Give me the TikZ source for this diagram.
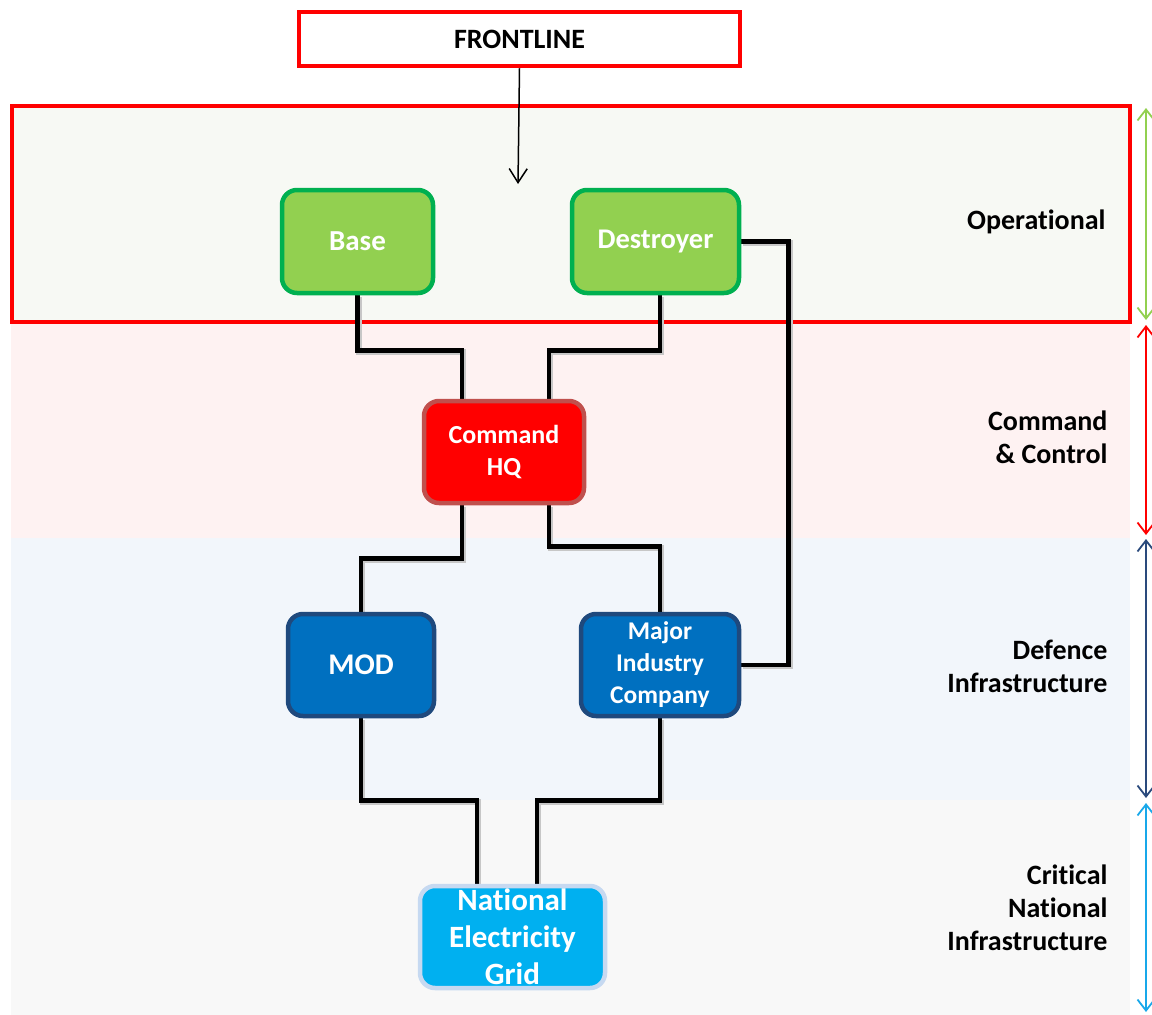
\documentclass[tikz,border=0pt]{standalone}
\usepackage{fontspec}
\setmainfont[Ligatures=NoCommon]{Carlito}
\usetikzlibrary{arrows.meta,calc}
\pgfdeclarelayer{bg}
\pgfdeclarelayer{lines}
\pgfsetlayers{bg,lines,main}
\definecolor{opfill}{HTML}{F7F9F4}
\definecolor{ccfill}{HTML}{FEF2F2}
\definecolor{dffill}{HTML}{F2F6FB}
\definecolor{cnfill}{HTML}{F8F8F8}
\definecolor{redline}{HTML}{FF0000}
\definecolor{gfill}{HTML}{92D050}
\definecolor{gline}{HTML}{00B050}
\definecolor{hqline}{HTML}{C0504D}
\definecolor{bfill}{HTML}{0070C0}
\definecolor{bline}{HTML}{1F497D}
\definecolor{cfill}{HTML}{00B0F0}
\definecolor{cline}{HTML}{C6D9F1}
\definecolor{dbarrow}{HTML}{2A4A7C}
\definecolor{lbarrow}{HTML}{18A8EA}
\tikzset{
  box/.style={rounded corners=15pt, line width=4.5pt, inner sep=0pt, align=center, text=white, font=\bfseries},
  conn/.style={line width=4.5pt, black},
  shadowconn/.style={line width=5.5pt, black!22, transform canvas={xshift=1.5pt,yshift=-1.5pt}},
  lbl/.style={anchor=east, align=right, font=\fontsize{28}{33}\selectfont\bfseries},
  dbl/.style={line width=1.8pt, {Straight Barb[length=11pt,width=17pt]}-{Straight Barb[length=11pt,width=17pt]}},
}
\begin{document}
\begin{tikzpicture}[x=1pt,y=-1pt]
\useasboundingbox (0,0) rectangle (1152,1015);
\begin{pgfonlayer}{bg}
  \fill[cnfill] (11,800) rectangle (1130,1015);
  \fill[dffill] (11,538) rectangle (1130,800);
  \fill[ccfill] (11,322) rectangle (1130,538);
  \fill[opfill] (11,105) rectangle (1130,322);
  \draw[redline, line width=4.5pt] (12,106) rectangle (1130,322);
\end{pgfonlayer}

% right-side range arrows
\draw[dbl, color=gfill] (1146,108) -- (1146,320);
\draw[dbl, color=redline] (1146,325) -- (1146,535);
\draw[dbl, color=dbarrow] (1146,539) -- (1146,798);
\draw[dbl, color=lbarrow] (1146,803) -- (1146,1012);

% band labels
\node[lbl] (lop) at (1109,222) {Operational};
\node[lbl] (lcc) at (1111,437) {Command\\\& Control};
\node[lbl] (ldf) at (1111,666) {Defence\\Infrastructure};
\node[lbl] (lcn) at (1111,908) {Critical\\National\\Infrastructure};

% frontline
\node[draw=redline, fill=white, line width=4.5pt, minimum width=441pt, minimum height=54pt, inner sep=0pt,
      font=\fontsize{28}{32}\selectfont\bfseries] (front) at (519.5,39) {FRONTLINE};
\coordinate (ftip) at (518,184);
\draw[line width=1.5pt, -{Straight Barb[length=14pt,width=18pt]}] (front.south) -- (ftip);

% nodes
\node[box, fill=gfill, draw=gline, minimum width=151pt, minimum height=103pt,
      font=\fontsize{29}{34}\selectfont\bfseries] (base) at (357.5,241.5) {Base};
\node[box, fill=gfill, draw=gline, minimum width=167pt, minimum height=103pt,
      font=\fontsize{28.5}{34}\selectfont\bfseries] (des) at (655.5,241.5) {Destroyer};
\node[box, fill=redline, draw=hqline, minimum width=160pt, minimum height=102pt,
      font=\fontsize{26}{32}\selectfont\bfseries] (hq) at (504,452) {Command\\HQ};
\node[box, fill=bfill, draw=bline, minimum width=146pt, minimum height=102pt,
      font=\fontsize{30}{34}\selectfont\bfseries] (mod) at (361,665) {MOD};
\node[box, fill=bfill, draw=bline, minimum width=158pt, minimum height=102pt,
      font=\fontsize{25.5}{32}\selectfont\bfseries] (maj) at (660,665) {Major\\Industry\\Company};
\node[box, fill=cfill, draw=cline, minimum width=185pt, minimum height=102pt,
      font=\fontsize{31}{37}\selectfont\bfseries] (neg) at (512.5,937) {National\\Electricity\\Grid};

% connectors
\begin{pgfonlayer}{lines}
  \foreach \s in {shadowconn,conn}{
    \draw[\s] (base.south) -- ++(0,55) -| ($(hq.north)+(-42,0)$);
    \draw[\s] ($(des.south)+(4.5,0)$) -- ++(0,55) -| ($(hq.north)+(45,0)$);
    \draw[\s] (des.east) -- ++(47,0) |- (maj.east);
    \draw[\s] ($(hq.south)+(-42,0)$) -- ++(0,53) -| (mod.north);
    \draw[\s] ($(hq.south)+(45,0)$) -- ++(0,41) -| (maj.north);
    \draw[\s] (mod.south) -- ++(0,82) -| ($(neg.north)+(-35.5,0)$);
    \draw[\s] (maj.south) -- ++(0,82) -| ($(neg.north)+(24.5,0)$);
  }
\end{pgfonlayer}
\end{tikzpicture}
\end{document}
